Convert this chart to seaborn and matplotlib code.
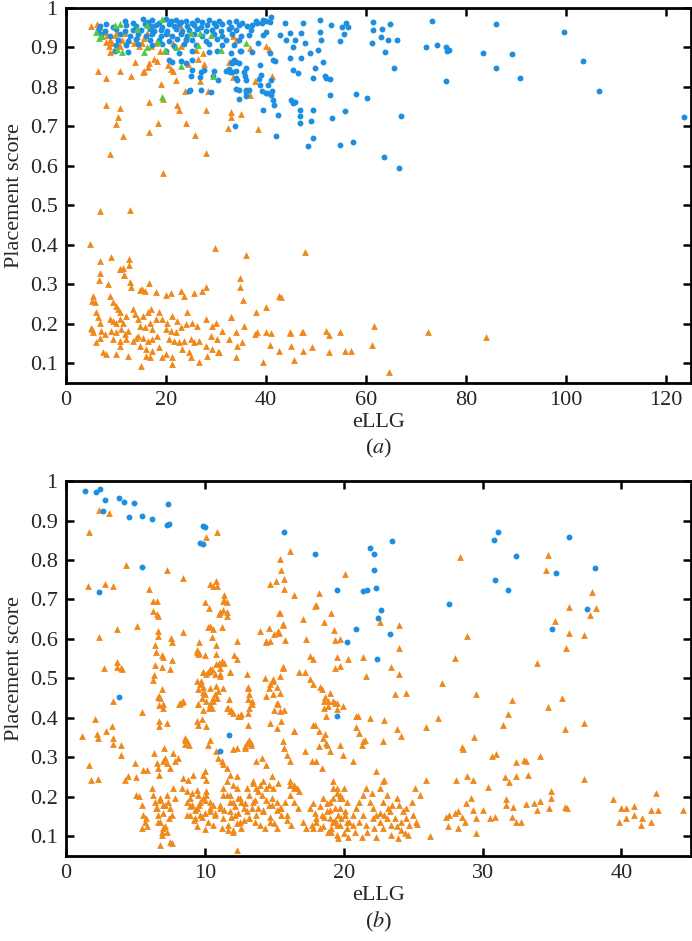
import matplotlib
matplotlib.use("Agg")
import matplotlib.pyplot as plt
import seaborn as sns
import pandas as pd

# ---------------- panel (a) ----------------
a_orange_top = [
    (4.9, .955), (6.3, .841), (8.0, .822), (8.0, .755), (8.7, .631), (9.9, .706), (10.3, .724),
    (10.8, .747), (11.3, .675), (10.7, .841), (12.9, .828), (13.7, .864), (15.4, .839), (15.6, .84),
    (16.3, .85), (16.6, .86), (16.6, .685), (16.6, .761), (17.7, .87), (18.3, .865), (18.5, .709),
    (19.5, .583), (19.1, .807), (19.5, .769), (20.5, .855), (21.0, .845), (21.5, .84), (22.1, .818),
    (22.3, .755), (22.6, .742), (24.0, .709), (25.8, .679), (23.8, .789), (26.8, .814), (28.1, .633),
    (28.0, .742), (28.5, .789), (27.7, .858), (26.5, .87), (24.5, .858), (32.5, .696), (33.0, .736),
    (33.1, .723), (35.1, .731), (32.7, .862), (33.5, .826), (36.8, .898), (36.9, .779), (37.8, .814),
    (38.5, .694), (40.7, .896), (41.3, .828),
    (6.8, .953), (7.5, .94), (8.1, .932), (8.8, .919), (9.1, .911), (9.8, .932), (10.1, .94),
    (9.5, .894), (8.8, .888), (10.8, .903), (11.8, .936), (12.5, .919), (13.5, .911), (14.1, .928),
    (15.1, .911), (16.1, .936), (17.1, .903), (18.1, .911), (18.8, .89), (20.1, .89), (21.5, .911),
    (22.8, .957), (23.1, .944), (25.1, .936), (26.1, .894), (27.5, .886), (33.5, .928), (34.1, .92),
    (40.1, .903), (6.1, .96), (7.1, .928), (8.0, .915), (8.5, .903), (10.1, .911), (11.1, .919),
    (14.5, .903), (15.5, .924), (17.5, .953), (20.5, .936), (23.1, .903), (24.1, .928),
]

a_orange_low = [
    (4.8, .403), (6.8, .486), (12.8, .488), (6.8, .358), (9.0, .37), (12.5, .365), (12.5, .349),
    (10.8, .34), (11.3, .342), (11.6, .324), (29.8, .393), (36.0, .374), (47.8, .383), (34.8, .315),
    (34.8, .294), (35.5, .259), (43.0, .269), (38.1, .229), (40.1, .243), (35.7, .195), (33.0, .216),
    (37.8, .174), (38.3, .178), (40.0, .178), (41.0, .176), (40.8, .145), (42.7, .131), (44.8, .178),
    (45.1, .143), (45.7, .107), (47.5, .178), (47.5, .132), (49.3, .141), (52.0, .181), (52.7, .172),
    (52.7, .128), (54.8, .18), (55.8, .132), (39.5, .103), (30.5, .128), (57.1, .13), (61.3, .146),
    (61.7, .195), (64.7, .079), (72.4, .178), (84.0, .167),
    (6.7, .328), (6.5, .31), (8.3, .30), (10.7, .338), (11.5, .323), (12.7, .306), (13.0, .292),
    (14.7, .286), (15.2, .289), (15.7, .283), (16.5, .303), (18.0, .281), (20.0, .272), (21.0, .277),
    (23.0, .283), (23.7, .271), (25.7, .277), (27.3, .283), (28.0, .292),
    (5.3, .271), (5.7, .254), (5.2, .258), (5.0, .19), (5.2, .186), (5.3, .178), (6.0, .229),
    (6.3, .216), (6.7, .203), (7.0, .182), (7.7, .174), (6.7, .165), (6.0, .153), (7.3, .128),
    (8.0, .123), (8.7, .271), (9.3, .254), (10.0, .245), (10.3, .237), (10.7, .229), (8.7, .212),
    (9.3, .208), (10.0, .203), (10.7, .212), (11.3, .203), (12.0, .22), (9.0, .182), (10.0, .178),
    (11.0, .186), (11.7, .174), (12.3, .182), (9.3, .161), (10.7, .157), (12.0, .161), (13.3, .157),
    (14.0, .165), (10.0, .123), (12.3, .119), (10.7, .144), (13.3, .237), (13.7, .224), (14.3, .212),
    (15.3, .22), (16.3, .229), (17.0, .237), (14.7, .195), (15.7, .191), (16.7, .203), (17.3, .186),
    (18.0, .212), (14.3, .17), (15.3, .165), (16.3, .157), (17.3, .161), (18.3, .17), (14.7, .144),
    (16.0, .136), (17.3, .132), (18.7, .14), (16.0, .119), (16.7, .115), (19.3, .115), (20.0, .123),
    (21.3, .117), (21.3, .098), (15.0, .092), (18.7, .229), (19.3, .212), (20.3, .203), (21.3, .22),
    (22.3, .207), (20.0, .186), (21.0, .182), (22.0, .178), (23.0, .191), (24.0, .199), (20.7, .161),
    (21.7, .157), (22.7, .153), (23.7, .157), (25.0, .161), (25.7, .153), (26.7, .157), (23.3, .136),
    (24.7, .128), (25.0, .115), (26.7, .102), (24.3, .229), (25.3, .203), (26.3, .195), (28.0, .212),
    (29.3, .195), (30.0, .203), (29.0, .17), (30.3, .161), (31.3, .182), (28.0, .144), (29.3, .136),
    (30.7, .128), (28.3, .119), (33.0, .216), (32.7, .161), (34.0, .178), (34.3, .144), (34.0, .115),
    (35.3, .153), (42.7, .271), (44.9, .176), (47.2, .18),
]

a_blue_dense = [
    (11.7, .968), (13.3, .963), (15.3, .971), (16.3, .965), (17.3, .969), (18.7, .962), (20.0, .972),
    (21.0, .966), (22.0, .97), (23.0, .964), (24.0, .968), (25.3, .963), (26.3, .97), (27.3, .965),
    (28.7, .969), (29.7, .962), (30.7, .967), (32.7, .964), (34.0, .968), (35.3, .963), (38.0, .966),
    (39.3, .962), (40.0, .967),
    (6.7, .955), (8.0, .959), (9.3, .953), (12.0, .958), (14.0, .954), (15.7, .96), (17.0, .955),
    (18.0, .958), (19.3, .953), (20.7, .959), (21.7, .955), (22.7, .96), (24.3, .954), (25.7, .958),
    (27.0, .953), (28.3, .957), (30.0, .955), (31.3, .959), (33.0, .953), (34.7, .957), (36.3, .954),
    (37.3, .958),
    (6.3, .945), (7.7, .942), (10.0, .946), (11.7, .941), (13.3, .945), (15.0, .943), (16.7, .947),
    (17.7, .941), (19.0, .945), (20.3, .942), (22.0, .946), (23.3, .941), (24.7, .944), (26.3, .947),
    (28.0, .942), (29.3, .945), (31.0, .941), (32.7, .946), (34.0, .943), (37.0, .945),
    (7.0, .933), (8.7, .929), (10.7, .934), (12.7, .93), (14.3, .935), (16.0, .929), (17.3, .933),
    (19.0, .93), (20.0, .934), (21.3, .929), (23.0, .933), (24.3, .93), (25.7, .935), (27.3, .929),
    (29.7, .933), (31.3, .93), (33.3, .934), (35.0, .929), (36.7, .932),
    (10.3, .92), (12.3, .917), (14.0, .921), (16.7, .918), (18.7, .92), (20.7, .916), (22.3, .921),
    (24.0, .918), (25.3, .92), (28.0, .917), (30.3, .921), (32.0, .918), (34.7, .92),
    (10.0, .907), (12.0, .905), (14.3, .909), (17.3, .906), (19.3, .908), (21.7, .904), (23.7, .908),
    (26.0, .905), (28.7, .909), (31.3, .906), (33.7, .907),
    (9.7, .89), (12.3, .888), (20.0, .892), (22.7, .887), (25.3, .891), (28.7, .888), (30.3, .892),
    (33.0, .887), (35.0, .89), (37.3, .888),
    (20.7, .868), (21.3, .862), (23.0, .866), (24.0, .861), (25.3, .867), (33.3, .863), (33.7, .869),
    (34.7, .861),
    (25.3, .842), (27.0, .838), (27.7, .843), (29.7, .84), (32.7, .845), (33.3, .837), (34.0, .841),
    (35.7, .839), (34.0, .822), (36.0, .818), (38.7, .821),
    (24.7, .79), (29.0, .788), (34.7, .792), (36.0, .786), (36.7, .791), (39.3, .789), (40.3, .785),
    (41.3, .79),
]

a_blue_mid = [
    (29.4, .827), (27.1, .793), (24.8, .793), (25.1, .827), (26.8, .825), (30.5, .818), (33.8, .70),
    (32.8, .839), (34.1, .864), (34.3, .818), (34.7, .77), (34.1, .795), (36.0, .793), (36.1, .776),
    (36.0, .848), (35.8, .827), (34.8, .89), (38.8, .856), (38.8, .806), (39.1, .831), (39.5, .742),
    (40.0, .785), (40.5, .806), (41.1, .818), (41.1, .78), (41.5, .768), (41.6, .755), (42.5, .73),
    (42.0, .675), (41.5, .869), (41.9, .866), (40.8, .886), (38.5, .911), (39.5, .932), (40.0, .94),
    (40.8, .965), (41.1, .976), (39.5, .97), (38.2, .961), (42.8, .932), (43.8, .961), (44.8, .936),
    (45.5, .902), (44.1, .919), (45.8, .919), (44.8, .873), (45.5, .843), (45.1, .768), (45.5, .759),
    (45.8, .762), (46.8, .742), (46.8, .726), (46.8, .709), (46.5, .835), (47.1, .873), (47.5, .961),
    (47.1, .936), (47.8, .911), (48.5, .65), (49.1, .713), (49.5, .671), (49.5, .742), (49.5, .822),
    (48.8, .886), (49.8, .848), (50.8, .97), (50.8, .94), (50.5, .894), (51.1, .919), (51.5, .864),
    (51.8, .827), (52.0, .822), (33.2, .86), (32.0, .84),
]

a_blue_far = [
    (53.1, .957), (55.3, .953), (56.0, .961), (56.5, .953), (55.6, .934), (54.8, .917), (52.8, .82),
    (52.8, .779), (53.2, .722), (55.8, .74), (58.0, .781), (60.2, .773), (54.9, .654), (57.5, .66),
    (63.6, .622), (66.6, .594), (67.1, .726), (61.5, .965), (61.5, .944), (61.3, .912), (63.3, .946),
    (63.1, .926), (64.9, .959), (64.5, .919), (66.2, .919), (63.9, .888), (65.6, .847), (73.3, .967),
    (72.1, .902), (74.2, .905), (76.1, .902), (76.6, .894), (76.3, .892), (76.0, .815), (86.0, .96),
    (83.5, .887), (86.0, .848), (89.2, .883), (90.9, .823), (99.7, .938), (103.5, .866), (106.7, .79),
    (123.7, .723),
]

a_green = [
    (6.5, .923), (6.0, .94), (7.0, .93), (9.8, .957), (10.8, .96), (11.1, .888), (10.1, .895),
    (14.1, .946), (16.1, .957), (15.6, .889), (16.1, .902), (18.5, .915), (19.3, .971), (19.9, .894),
    (22.1, .902), (23.1, .852), (25.1, .936), (26.5, .907), (26.8, .936), (29.5, .828), (29.1, .932),
    (31.1, .894), (36.0, .911), (19.2, .775),
]

# ---------------- panel (b) ----------------
b_orange_top = [
    (1.68, .871), (1.61, .733), (2.4, .926), (3.07, .918), (2.8, .738), (3.4, .733), (2.4, .606),
    (2.73, .526), (3.69, .625), (3.69, .542), (4.0, .523), (4.29, .788), (5.08, .633), (5.97, .727),
    (6.28, .697), (6.57, .695), (6.28, .672), (6.52, .663), (6.64, .659), (6.64, .621), (6.64, .608),
    (6.4, .585), (6.5, .566), (6.9, .56), (6.95, .553), (6.4, .534), (7.24, .775), (7.6, .547),
    (7.5, .523), (8.4, .754), (8.44, .617), (9.6, .591), (9.4, .572), (9.6, .564), (10.0, .693),
    (10.1, .858), (10.4, .738), (10.6, .733), (10.8, .746), (10.9, .735), (10.3, .678), (10.2, .631),
    (10.4, .634), (10.6, .625), (10.5, .606), (10.0, .559), (9.9, .517), (10.2, .516), (10.4, .524),
    (10.5, .523), (10.8, .585), (10.8, .561), (11.0, .54), (10.9, .87), (11.1, .51), (11.1, .527),
    (11.4, .538), (11.2, .544), (11.0, .663), (11.1, .668), (11.3, .673), (11.6, .659), (11.6, .667),
    (11.3, .695), (11.4, .699), (11.6, .693), (11.4, .712), (11.2, .629), (12.3, .595), (12.1, .559),
    (11.8, .517), (12.3, .549), (14.0, .621), (14.3, .502), (14.4, .595), (14.7, .594), (14.7, .74),
    (15.1, .746), (15.4, .803), (15.5, .775), (15.7, .752), (15.7, .727), (15.4, .665), (15.6, .635),
    (15.0, .612), (15.3, .619), (15.8, .598), (15.6, .527), (16.1, .824), (16.4, .712), (17.1, .65),
    (17.3, .60), (17.6, .557), (17.8, .549), (16.8, .515), (17.2, .515), (17.9, .684), (18.2, .716),
    (18.6, .644), (19.1, .665), (19.3, .622), (19.4, .597), (19.7, .601), (19.5, .553), (20.1, .765),
    (20.3, .549), (19.4, .526), (19.7, .532), (22.6, .643), (21.4, .553), (24.0, .635), (24.0, .578),
    (23.4, .528), (24.0, .511), (21.6, .505), (28.4, .807), (28.9, .608), (28.0, .551), (33.9, .539),
    (34.7, .813), (34.6, .774), (35.2, .646), (36.2, .68), (36.2, .616), (36.0, .578), (37.3, .609),
    (37.9, .718), (37.7, .661), (38.2, .678), (7.55, .602), (7.6, .593), (14.6, .627), (15.35, .615),
    (15.6, .638), (14.4, .593), (15.35, .666), (18.0, .686), (14.9, .498), (15.4, .506), (15.6, .529),
    (9.83, .515), (10.8, .536), (11.8, .515), (9.4, .566), (9.54, .561),
]

b_orange_mid = [
    (1.13, .354), (1.68, .28), (1.78, .243), (2.33, .246), (2.08, .398), (2.2, .36), (2.33, .348),
    (2.88, .366), (3.29, .379), (3.36, .349), (3.41, .334), (3.41, .443), (3.93, .332), (3.93, .307),
    (3.69, .529), (3.93, .526), (4.24, .243), (4.48, .252), (4.96, .286), (5.04, .249), (5.44, .415),
    (5.56, .269), (5.8, .269), (6.33, .508), (6.88, .528), (6.6, .453), (6.71, .433), (6.95, .426),
    (6.33, .311), (6.52, .286), (6.64, .273), (6.71, .256), (7.0, .29), (7.12, .298), (7.24, .286),
    (7.48, .273), (7.72, .311), (7.84, .29), (8.08, .298), (8.2, .438), (8.4, .443), (8.56, .349),
    (8.68, .341), (8.88, .332), (8.44, .248), (8.8, .243), (9.16, .256), (9.52, .434), (9.76, .451),
    (10.0, .46), (10.1, .443), (10.4, .434), (10.6, .451), (10.5, .426), (9.4, .392), (9.52, .383),
    (9.76, .396), (10.1, .379), (9.88, .256), (10.1, .243), (10.0, .265), (10.2, .332), (10.4, .345),
    (9.4, .494), (9.64, .485), (9.88, .477), (10.1, .51), (10.4, .519), (10.7, .51), (11.1, .506),
    (10.8, .481), (10.96, .468), (10.7, .46), (10.8, .315), (10.96, .298), (11.2, .29), (11.3, .282),
    (11.6, .273), (11.8, .256), (12.3, .252), (11.7, .426), (11.8, .417), (12.0, .413), (12.0, .32),
    (12.3, .324), (12.6, .409), (12.5, .405), (12.9, .324), (13.0, .337), (13.2, .345), (13.3, .332),
    (13.0, .51), (13.1, .477), (13.2, .46), (13.4, .443), (13.2, .426), (13.7, .29), (14.1, .298),
    (14.4, .281), (14.8, .252), (14.7, .485), (14.9, .494), (15.2, .477), (14.9, .46), (15.4, .464),
    (15.6, .528), (15.3, .434), (15.4, .417), (15.5, .392), (15.2, .375), (15.6, .341), (15.7, .324),
    (15.9, .307), (16.4, .366), (16.1, .29), (17.6, .498), (17.8, .485), (18.3, .477), (18.6, .443),
    (18.9, .43), (19.0, .464), (17.8, .383), (18.2, .366), (18.5, .35), (18.8, .332), (19.0, .315),
    (17.2, .315), (17.7, .29), (18.0, .29), (18.4, .273), (19.2, .443), (19.5, .422), (19.95, .43),
    (19.7, .332), (19.95, .307),
    (23.7, .46), (24.5, .462), (19.5, .438), (20.9, .405), (21.0, .405), (21.9, .40), (22.9, .394),
    (20.9, .377), (21.1, .362), (21.4, .341), (21.5, .343), (21.3, .332), (22.8, .341), (23.8, .372),
    (24.1, .354), (20.7, .29), (27.1, .489), (26.8, .40), (25.9, .377), (28.5, .326), (28.6, .32),
    (29.4, .351), (29.5, .46), (31.5, .382), (31.8, .409), (32.1, .445), (30.7, .303), (31.0, .309),
    (32.4, .288), (33.0, .294), (33.1, .292), (33.3, .256), (34.1, .304), (34.7, .428), (35.7, .451),
    (35.9, .372), (37.3, .388), (37.3, .245), (22.3, .265), (22.9, .242), (22.8, .239), (25.9, .243),
    (28.1, .242), (28.9, .252), (29.3, .242), (31.6, .249), (31.9, .238), (32.4, .254),
    (7.03, .324), (8.6, .345), (8.6, .334), (6.7, .455), (6.8, .451), (6.95, .434), (7.3, .387),
    (6.67, .392), (6.7, .379), (8.15, .434), (8.35, .441), (6.28, .496), (6.9, .474), (9.71, .493),
    (9.54, .474), (10.4, .476), (11.3, .475), (9.83, .466), (9.47, .436), (10.55, .442), (10.9, .451),
    (11.75, .447), (9.83, .421), (10.3, .426), (11.6, .426), (11.9, .421), (12.35, .404), (13.07, .475),
    (13.07, .448), (13.4, .436), (13.14, .413), (13.07, .381), (14.6, .475), (14.4, .455), (15.2, .437),
    (15.0, .419), (15.7, .421), (14.7, .387), (18.4, .474), (18.66, .453), (18.9, .444), (19.4, .438),
    (18.6, .426), (18.7, .404), (17.9, .383), (18.65, .359), (18.7, .336), (18.2, .33), (16.4, .368),
    (12.9, .33), (13.1, .339), (13.3, .336),
]

b_orange_low = [
    (5.04, .205), (5.28, .201), (5.44, .18), (5.56, .154), (5.68, .137), (5.8, .125), (5.44, .12),
    (5.76, .146), (6.16, .222), (6.28, .205), (6.4, .188), (6.52, .171), (6.64, .154), (6.76, .137),
    (7.0, .12), (7.24, .112), (6.88, .104), (6.76, .078), (7.24, .205), (7.36, .188), (7.48, .171),
    (7.6, .154), (7.72, .222), (7.84, .197), (7.0, .18), (6.76, .197), (7.48, .086), (7.6, .084),
    (8.32, .222), (8.68, .214), (9.04, .21), (9.4, .218), (8.68, .188), (9.04, .18), (9.4, .171),
    (9.64, .188), (9.88, .197), (10.1, .205), (10.4, .188), (10.6, .18), (8.92, .154), (9.28, .146),
    (9.64, .154), (10.0, .159), (10.4, .163), (10.7, .154), (11.1, .171), (11.3, .222), (11.6, .239),
    (12.0, .231), (11.3, .205), (11.8, .205), (12.0, .188), (12.4, .197), (12.6, .188), (12.8, .171),
    (11.8, .163), (12.2, .154), (12.5, .137), (11.2, .12), (11.7, .116), (12.0, .112), (12.3, .065),
    (13.5, .239), (13.7, .222), (14.0, .231), (14.2, .239), (14.4, .222), (13.5, .188), (13.8, .171),
    (14.2, .163), (14.6, .18), (14.8, .197), (15.2, .188), (15.5, .171), (15.9, .154), (13.2, .146),
    (13.6, .137), (13.96, .129), (14.3, .12), (14.7, .137), (15.2, .12), (16.1, .239), (16.4, .231),
    (16.6, .222), (16.8, .214), (16.7, .171), (17.1, .137), (16.4, .188), (17.3, .12), (17.7, .129),
    (18.0, .146), (18.4, .154), (18.8, .163), (19.0, .146), (19.2, .137), (19.5, .129), (18.3, .12),
    (18.9, .112), (19.2, .239), (19.5, .222), (19.7, .205), (19.9, .197), (20.2, .188), (19.7, .171),
    (20.1, .154), (20.2, .137), (19.6, .095),
    (6.8, .193), (7.1, .18), (6.5, .171), (7.0, .159), (7.4, .146), (6.6, .137), (7.1, .125),
    (6.9, .112), (8.9, .176), (9.3, .167), (9.6, .18), (10.0, .193), (10.4, .171), (10.7, .159),
    (8.7, .154), (9.2, .142), (9.8, .15), (10.2, .137), (10.6, .129), (9.4, .125), (10.0, .119),
    (8.9, .197), (9.5, .205), (10.1, .214), (11.1, .18), (11.4, .167), (11.8, .188), (12.2, .176),
    (12.5, .197), (12.9, .184), (13.2, .205), (13.6, .193), (11.3, .146), (11.9, .15), (12.4, .159),
    (13.0, .163), (13.4, .171), (11.7, .129), (12.3, .133), (12.8, .142), (13.2, .146), (13.7, .154),
    (12.0, .116), (12.6, .12), (11.6, .205), (12.3, .222), (13.0, .222), (13.5, .235), (13.8, .214),
    (14.1, .205), (14.4, .193), (14.8, .18), (15.2, .167), (15.5, .154), (15.9, .142), (16.2, .129),
    (14.2, .167), (14.7, .15), (15.0, .133), (15.4, .171), (15.8, .188), (16.1, .205), (16.4, .222),
    (16.1, .231), (14.6, .231), (14.9, .222), (15.3, .235), (17.6, .171), (17.9, .159), (18.3, .176),
    (18.6, .15), (19.0, .167), (19.4, .142), (18.0, .137), (18.5, .125), (19.1, .121), (17.8, .121),
    (18.8, .184), (19.2, .197), (18.5, .197), (17.8, .184),
    (19.2, .222), (19.5, .209), (19.7, .197), (20.0, .222), (19.0, .188), (19.35, .171), (19.6, .154),
    (19.8, .146), (20.1, .163), (19.2, .137), (19.7, .129), (20.2, .12), (19.1, .112), (19.5, .103),
    (20.0, .108), (20.4, .137), (20.7, .154), (20.9, .171), (21.1, .188), (21.4, .205), (21.6, .222),
    (21.9, .188), (22.1, .171), (22.3, .154), (22.6, .137), (22.8, .12), (23.1, .146), (23.3, .163),
    (23.5, .18), (23.8, .197), (24.0, .18), (24.3, .163), (24.5, .146), (24.7, .129), (25.0, .154),
    (25.2, .137), (22.2, .12), (21.7, .112), (21.3, .099), (20.8, .112), (20.3, .099), (23.4, .103),
    (23.9, .095), (23.1, .205), (22.6, .222), (22.0, .209), (22.8, .188), (23.2, .171), (23.7, .146),
    (24.1, .137), (24.5, .171), (24.9, .188), (21.4, .154), (21.1, .137), (21.6, .129), (20.7, .129),
    (22.1, .146), (22.6, .159), (22.9, .154), (23.4, .129), (23.8, .125), (24.1, .116), (24.4, .108),
    (22.3, .099),
    (25.1, .222), (25.5, .205), (27.4, .15), (27.6, .154), (28.0, .159), (28.2, .163), (28.5, .15),
    (28.7, .137), (27.5, .125), (28.2, .12), (28.8, .184), (29.2, .197), (29.3, .167), (29.5, .146),
    (30.0, .167), (29.5, .108), (30.5, .146), (30.9, .148), (32.1, .15), (32.4, .137), (32.8, .137),
    (26.2, .102), (25.3, .131), (24.6, .104), (30.4, .224), (34.9, .215), (34.9, .198), (31.7, .194),
    (31.7, .18), (32.2, .173), (33.1, .181), (33.7, .184), (33.9, .167), (34.1, .19), (34.8, .171),
    (35.9, .174), (36.1, .171), (39.4, .195), (40.0, .171), (40.3, .171), (40.9, .178), (39.8, .137),
    (40.3, .146), (40.9, .154), (41.4, .129), (41.5, .146), (42.1, .137), (42.1, .167), (42.6, .167),
    (42.5, .21), (44.4, .166),
]

b_blue = [
    (1.37, .975), (2.13, .971), (2.45, .98), (2.83, .952), (2.64, .924), (2.35, .718), (3.84, .958),
    (4.2, .948), (4.92, .945), (4.56, .908), (5.44, .912), (6.16, .905), (5.49, .782), (7.31, .941),
    (7.24, .888), (7.43, .891), (9.83, .886), (10.0, .884), (9.64, .843), (9.83, .841), (15.7, .87),
    (17.9, .816), (19.5, .723), (20.2, .593), (21.9, .831), (22.2, .814), (22.2, .774), (22.3, .729),
    (21.4, .722), (21.7, .725), (23.5, .849), (22.7, .674), (22.5, .653), (20.9, .625), (23.3, .613),
    (22.4, .548), (27.6, .689), (30.8, .851), (31.1, .87), (32.4, .81), (30.9, .749), (31.8, .724),
    (36.2, .857), (35.3, .768), (35.0, .625), (37.5, .675), (38.1, .779), (3.81, .453), (11.75, .356),
    (11.1, .316), (19.5, .405),
]

ORANGE = "#f0891c"
BLUE = "#1c8fe3"
GREEN = "#52c944"


def frame(groups):
    rows = []
    for name, pts in groups:
        for x, y in pts:
            rows.append({"eLLG": x, "score": y, "kind": name})
    return pd.DataFrame(rows)


df_a = frame([("orange", a_orange_top + a_orange_low),
              ("blue", a_blue_dense + a_blue_mid + a_blue_far),
              ("green", a_green)])
df_b = frame([("orange", b_orange_top + b_orange_mid + b_orange_low),
              ("blue", b_blue)])

sns.set_style("ticks")
plt.rcParams["font.family"] = "serif"
plt.rcParams["font.serif"] = ["Liberation Serif"]
plt.rcParams["mathtext.fontset"] = "stix"

fig = plt.figure(figsize=(6.92, 9.41), dpi=100)
ax_a = fig.add_axes([0.0954, 0.593, 0.903, 0.3985])
ax_b = fig.add_axes([0.0954, 0.0903, 0.903, 0.3985])

palette = {"orange": ORANGE, "blue": BLUE, "green": GREEN}
markers = {"orange": "^", "blue": "o", "green": "^"}
sizes = {"orange": 24, "blue": 18, "green": 24}

for ax, df in [(ax_a, df_a), (ax_b, df_b)]:
    for kind in ["orange", "blue", "green"]:
        sub = df[df["kind"] == kind]
        if len(sub) == 0:
            continue
        sns.scatterplot(data=sub, x="eLLG", y="score", color=palette[kind],
                        marker=markers[kind], s=sizes[kind], linewidth=0,
                        ax=ax, legend=False)

ax_a.set_xlim(0, 125)
ax_a.set_xticks([0, 20, 40, 60, 80, 100, 120])
ax_b.set_xlim(0, 45)
ax_b.set_xticks([0, 10, 20, 30, 40])

yticks = [0.1, 0.2, 0.3, 0.4, 0.5, 0.6, 0.7, 0.8, 0.9, 1.0]
ylabels = ["0.1", "0.2", "0.3", "0.4", "0.5", "0.6", "0.7", "0.8", "0.9", "1"]

for ax, cap in [(ax_a, r"($\mathit{a}$)"), (ax_b, r"($\mathit{b}$)")]:
    ax.set_ylim(0.05, 1.0)
    ax.set_yticks(yticks)
    ax.set_yticklabels(ylabels)
    ax.set_xlabel("eLLG", fontsize=16, labelpad=2)
    ax.set_ylabel("Placement score", fontsize=16)
    ax.yaxis.set_label_coords(-0.068, 0.5)
    ax.tick_params(direction="in", length=6, width=1.8, labelsize=16, pad=6,
                   top=True, right=True, color="black")
    for sp in ax.spines.values():
        sp.set_visible(True)
        sp.set_linewidth(2.0)
        sp.set_color("black")
    ax.text(0.5, -0.175, cap, transform=ax.transAxes, ha="center", va="center",
            fontsize=16)

fig.savefig("out.png", dpi=100)
